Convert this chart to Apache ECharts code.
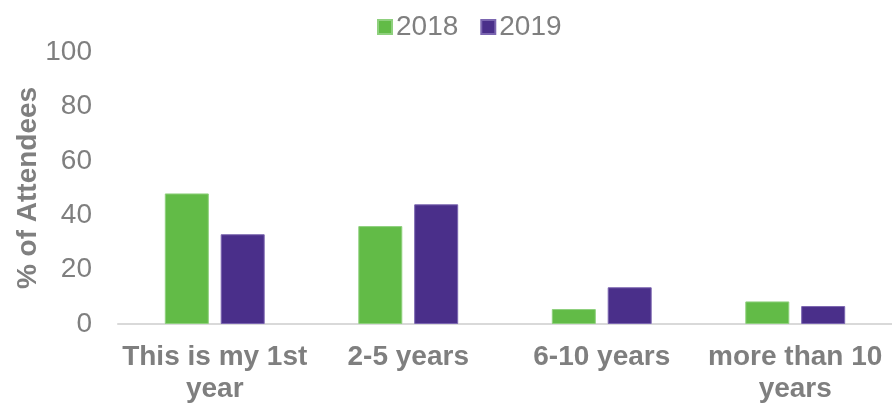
<!DOCTYPE html>
<html>
<head>
<meta charset="utf-8">
<script src="https://cdn.jsdelivr.net/npm/echarts@6/dist/echarts.min.js"></script>
<style>
  html, body { margin: 0; padding: 0; background: #fff; }
  #chart { width: 892px; height: 406px; }
</style>
</head>
<body>
<div id="chart"></div>
<script>
    "use strict";

    // 数据
    var categories = ['This is my 1st\nyear', '2-5 years', '6-10 years', 'more than 10\nyears'];
    var values2018 = [48, 36, 5.5, 8.3];
    var values2019 = [33, 44, 13.5, 6.6];
    var yTicks = { min: 0, max: 100, interval: 20 };

    var grey = '#7f7f7f';
    var myChart = echarts.init(document.getElementById('chart'));

    var option = {
        backgroundColor: '#fff',
        textStyle: { fontFamily: 'Liberation Sans, Arial, sans-serif' },
        legend: {
            left: 372,
            top: 8,
            itemWidth: 14,
            itemHeight: 14,
            itemGap: 22,
            icon: 'rect',
            textStyle: { color: grey, fontSize: 28, padding: [0, 0, 0, -1] },
            data: ['2018', '2019']
        },
        grid: {
            left: 118,
            right: 0,
            top: 52,
            bottom: 82,
            outerBoundsMode: 'none'
        },
        xAxis: {
            type: 'category',
            data: categories,
            axisLine: { lineStyle: { color: '#d9d9d9', width: 2 } },
            axisTick: { show: false },
            axisLabel: {
                color: grey,
                fontSize: 28,
                fontWeight: 'bold',
                lineHeight: 32,
                margin: 17,
                interval: 0
            }
        },
        yAxis: {
            type: 'value',
            min: yTicks.min,
            max: yTicks.max,
            interval: yTicks.interval,
            name: '% of Attendees',
            nameLocation: 'middle',
            nameGap: 76,
            nameMoveOverlap: false,
            nameTextStyle: { color: grey, fontSize: 28, fontWeight: 'bold' },
            axisLine: { show: false },
            axisTick: { show: false },
            splitLine: { show: false },
            axisLabel: { color: grey, fontSize: 28, margin: 26 }
        },
        series: [
            {
                name: '2018',
                type: 'bar',
                barWidth: 44,
                barGap: '27%',
                itemStyle: { color: '#62bb47', borderColor: '#8fd07e', borderWidth: 1 },
                data: values2018
            },
            {
                name: '2019',
                type: 'bar',
                barWidth: 44,
                itemStyle: { color: '#4a2f8a', borderColor: '#7b66b0', borderWidth: 1 },
                data: values2019
            }
        ]
    };

    myChart.setOption(option);
</script>
</body>
</html>
